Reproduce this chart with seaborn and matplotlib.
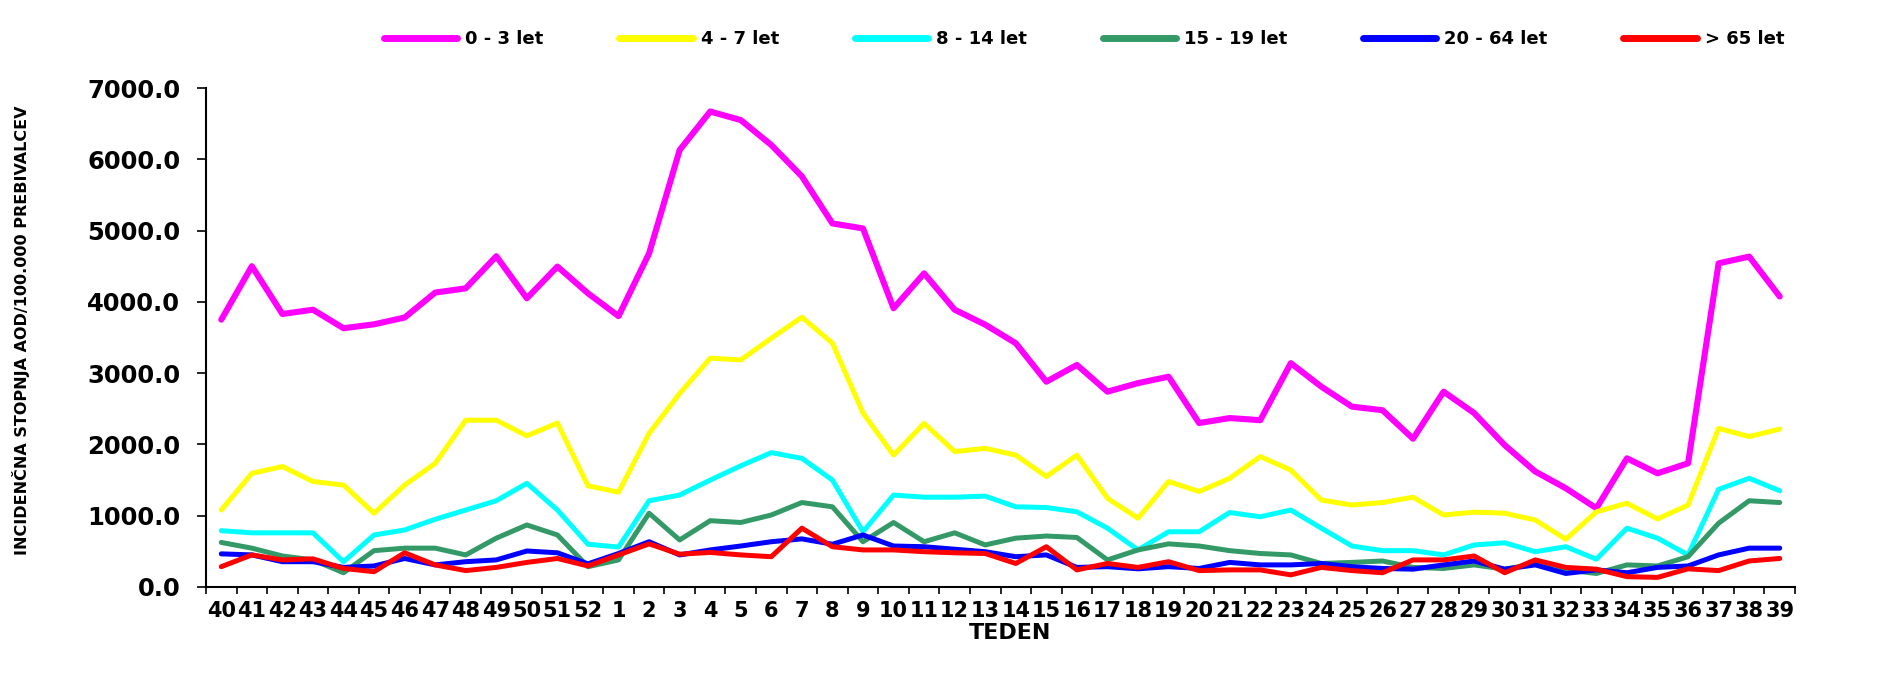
import numpy as np
import pandas as pd
import matplotlib
matplotlib.use("Agg")
import matplotlib.pyplot as plt
import seaborn as sns

# Weeks on the x axis (season week 40 -> week 39)
weeks = [str(w) for w in list(range(40, 53)) + list(range(1, 40))]

groups = ["0 - 3 let", "4 - 7 let", "8 - 14 let", "15 - 19 let", "20 - 64 let", "> 65 let"]
colors = ["#FF00FF", "#FFFF00", "#00FFFF", "#339966", "#0000FF", "#FF0000"]

# Incidence per 100.000 inhabitants
age_0_3 = [3750, 4500, 3830, 3890, 3630, 3685, 3780, 4130, 4190, 4640, 4050, 4495, 4120,
           3800, 4680, 6130, 6670, 6550, 6200, 5760, 5100, 5030, 3910, 4400, 3890, 3680,
           3420, 2880, 3115, 2740, 2860, 2950, 2300, 2370, 2340, 3140, 2810, 2530, 2480,
           2080, 2740, 2440, 1990, 1620, 1385, 1105, 1805, 1595, 1735, 4540, 4635, 4075]
age_4_7 = [1080, 1595, 1690, 1480, 1430, 1035, 1430, 1735, 2340, 2340, 2120, 2300, 1420,
           1330, 2155, 2715, 3210, 3185, 3490, 3785, 3420, 2440, 1850, 2295, 1900, 1945,
           1850, 1550, 1850, 1245, 965, 1480, 1340, 1525, 1830, 1640, 1220, 1150, 1185,
           1260, 1010, 1050, 1035, 940, 670, 1055, 1175, 955, 1150, 2225, 2110, 2215]
age_8_14 = [790, 760, 760, 760, 355, 730, 800, 950, 1080, 1210, 1455, 1080, 600,
            560, 1210, 1290, 1500, 1700, 1885, 1805, 1500, 775, 1290, 1260, 1260, 1275,
            1125, 1115, 1055, 825, 520, 775, 775, 1045, 985, 1080, 825, 575, 510,
            510, 450, 590, 620, 495, 565, 390, 825, 685, 450, 1370, 1525, 1350]
age_15_19 = [625, 545, 435, 380, 200, 510, 545, 545, 450, 685, 870, 730, 285,
             380, 1035, 660, 930, 905, 1010, 1185, 1125, 635, 905, 635, 760, 590,
             685, 715, 695, 380, 520, 605, 575, 510, 470, 450, 330, 345, 365,
             275, 260, 310, 250, 325, 240, 190, 310, 295, 425, 895, 1210, 1185]
age_20_64 = [465, 450, 355, 355, 275, 295, 400, 310, 355, 380, 505, 480, 325,
             470, 635, 450, 520, 575, 635, 675, 600, 730, 575, 565, 530, 495,
             425, 450, 275, 285, 255, 285, 260, 345, 310, 310, 330, 285, 260,
             250, 310, 365, 250, 310, 190, 240, 200, 275, 295, 450, 545, 545]
age_65 = [285, 450, 380, 395, 260, 215, 480, 310, 230, 275, 345, 400, 295,
          450, 605, 460, 485, 450, 425, 825, 565, 520, 520, 495, 480, 470,
          330, 565, 240, 330, 275, 355, 230, 240, 240, 170, 275, 230, 200,
          380, 380, 435, 200, 380, 275, 250, 145, 135, 255, 230, 365, 400]

series = [age_0_3, age_4_7, age_8_14, age_15_19, age_20_64, age_65]

df = pd.DataFrame({"pos": np.arange(len(weeks)), "teden": weeks})
for name, vals in zip(groups, series):
    df[name] = vals
long = df.melt(id_vars=["pos", "teden"], value_vars=groups,
               var_name="skupina", value_name="incidenca")

sns.set_style("ticks")
plt.rcParams["font.family"] = ["DejaVu Sans"]
plt.rcParams["font.weight"] = "bold"
plt.rcParams["text.color"] = "black"
plt.rcParams["axes.labelcolor"] = "black"
plt.rcParams["xtick.color"] = "black"
plt.rcParams["ytick.color"] = "black"

fig = plt.figure(figsize=(18.79, 6.77), dpi=100)
ax = fig.add_axes([206 / 1879, 1 - 587 / 677, (1795 - 206) / 1879, (587 - 88) / 677])

sns.lineplot(data=long, x="pos", y="incidenca", hue="skupina", hue_order=groups,
             palette=colors, linewidth=3.6, sort=False, ax=ax, legend=True)
ax.lines[0].set_linewidth(4.4)
for ln in ax.lines:
    ln.set_solid_joinstyle("round")
    ln.set_solid_capstyle("round")

# axes limits and ticks (category-style x axis)
ax.set_xlim(-0.5, len(weeks) - 0.5)
ax.set_ylim(0, 7000)
ax.set_yticks(np.arange(0, 7001, 1000))
ax.set_yticklabels([f"{v:.1f}" for v in np.arange(0, 7001, 1000)],
                   fontsize=17.5, fontweight="bold")
ax.tick_params(axis="y", length=6.5, width=1.2, pad=12, color="black")

ax.set_xticks(np.arange(len(weeks) + 1) - 0.5)
ax.set_xticklabels([""] * (len(weeks) + 1))
ax.set_xticks(np.arange(len(weeks)), minor=True)
ax.set_xticklabels(weeks, minor=True, fontsize=15, fontweight="bold")
ax.tick_params(axis="x", which="major", length=5, width=1.2, color="black", direction="out")
ax.tick_params(axis="x", which="minor", length=0, pad=10)

sns.despine(ax=ax)
for side in ["left", "bottom"]:
    ax.spines[side].set_color("black")
    ax.spines[side].set_linewidth(1.5)
ax.grid(False)

ax.set_xlabel("TEDEN", fontsize=16, fontweight="bold")
ax.xaxis.label.set_va("center")
ax.xaxis.set_label_coords(0.506, -0.092)
ax.set_ylabel("INCIDENČNA STOPNJA AOD/100.000 PREBIVALCEV", fontsize=11.5, fontweight="bold")
ax.yaxis.label.set_va("center")
ax.yaxis.set_label_coords(-0.1164, 0.515)

handles, labels = ax.get_legend_handles_labels()
ax.get_legend().remove()
for h in handles:
    h.set_linewidth(5)
fig.legend(handles, labels, loc="center", bbox_to_anchor=(0.577, 0.942), ncol=6,
           frameon=False, handlelength=4.05, handletextpad=0.45,
           columnspacing=4.2, prop={"weight": "bold", "size": 13})

fig.savefig("out.png", dpi=100, facecolor="white")
